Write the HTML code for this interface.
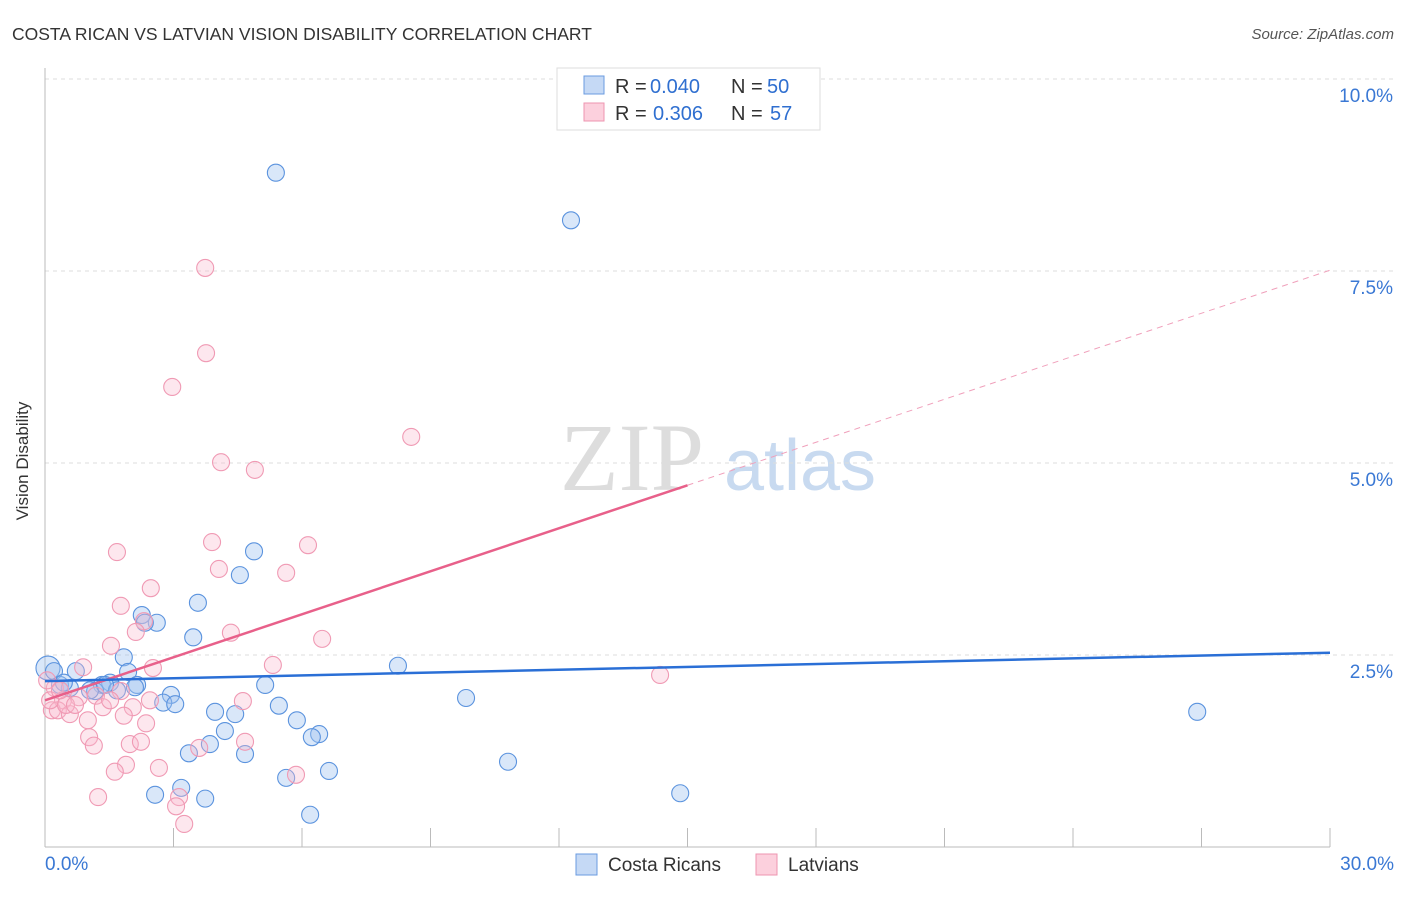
<!DOCTYPE html>
<html><head><meta charset="utf-8"><style>
body{margin:0;background:#fff;font-family:"Liberation Sans",sans-serif}
svg text{font-family:"Liberation Sans",sans-serif}
</style></head><body>
<svg id="chart" width="1406" height="892" xmlns="http://www.w3.org/2000/svg">
<text x="12" y="40" font-size="17.5" fill="#333">COSTA RICAN VS LATVIAN VISION DISABILITY CORRELATION CHART</text>
<text x="1394" y="39" font-size="15" fill="#555" font-style="italic" text-anchor="end">Source: ZipAtlas.com</text>
<g>
<text x="632" y="490" font-size="96" fill="#ddd" text-anchor="middle" style="font-family:'Liberation Serif',serif">ZIP</text>
<text x="800" y="490" font-size="72" fill="#c8daf0" text-anchor="middle">atlas</text>
</g>
<g id="grid"></g>
<g id="axes"></g>
<g id="marks"></g>
<text x="22" y="455" font-size="17" fill="#333" transform="rotate(-90 28 455)" text-anchor="middle">Vision Disability</text>
<g>
<rect x="557" y="68" width="263" height="62" fill="#fff" stroke="#ddd"/>
<rect x="584" y="76" width="20" height="18" fill="#c5d9f5" stroke="#6a9be0"/>
<rect x="584" y="103" width="20" height="18" fill="#fcd0dd" stroke="#ee95b0"/>
<text x="615" y="93" font-size="20" fill="#333">R =</text>
<text x="650" y="93" font-size="20" fill="#2f6fd0">0.040</text>
<text x="731" y="93" font-size="20" fill="#333">N =</text>
<text x="767" y="93" font-size="20" fill="#2f6fd0">50</text>
<text x="615" y="120" font-size="20" fill="#333">R =</text>
<text x="653" y="120" font-size="20" fill="#2f6fd0">0.306</text>
<text x="731" y="120" font-size="20" fill="#333">N =</text>
<text x="770" y="120" font-size="20" fill="#2f6fd0">57</text>
</g>
<g>
<rect x="576" y="854" width="21" height="21" fill="#c5d9f5" stroke="#6a9be0"/>
<text x="608" y="871" font-size="19" fill="#333">Costa Ricans</text>
<rect x="756" y="854" width="21" height="21" fill="#fcd0dd" stroke="#ee95b0"/>
<text x="788" y="871" font-size="19" fill="#333">Latvians</text>
</g>
</svg>
<script>
const blueX=[0.07,5.39,12.28,4.88,4.55,3.57,2.26,2.61,2.33,3.46,1.84,8.24,0.21,1.94,0.72,0.35,2.15,5.14,1.52,1.33,1.68,1.17,2.94,9.83,2.76,3.04,5.46,3.97,4.44,5.88,6.40,6.23,4.20,3.85,3.36,4.67,10.81,6.63,5.63,3.18,2.57,3.74,14.83,6.19,26.90,1.05,0.58,0.44,2.10,1.40];
const blueY=[2.33,8.78,8.16,3.85,3.54,3.18,3.02,2.92,2.92,2.73,2.47,2.36,2.29,2.28,2.29,2.11,2.11,2.11,2.14,2.11,2.04,2.03,1.98,1.94,1.88,1.86,1.84,1.76,1.73,1.65,1.47,1.43,1.51,1.34,1.22,1.21,1.11,0.99,0.90,0.77,0.68,0.63,0.70,0.42,1.76,2.04,2.07,2.14,2.08,2.11];
const blueWeight=[2,1,1,1,1,1,1,1,1,1,1,1,1,1,1,1,1,1,1,1,1,1,1,1,1,1,1,1,1,1,1,1,1,1,1,1,1,1,1,1,1,1,1,1,1,1,1,1,1,1];
const pinkX=[3.74,3.76,2.97,8.55,4.11,4.90,1.68,3.90,6.14,4.06,5.63,2.47,1.77,2.31,2.12,4.34,1.54,6.47,2.52,5.32,0.89,14.36,4.62,0.23,0.42,0.79,1.19,1.77,1.35,2.05,1.84,0.16,0.30,0.58,1.00,2.36,1.03,1.98,2.24,4.67,1.14,3.60,1.89,2.66,1.63,5.86,1.24,3.13,3.06,3.25,0.12,0.49,0.05,1.52,2.45,0.35,0.70];
const pinkY=[7.54,6.43,5.99,5.34,5.01,4.91,3.84,3.97,3.93,3.62,3.57,3.37,3.14,2.94,2.80,2.79,2.62,2.71,2.33,2.37,2.34,2.24,1.90,2.07,1.91,1.95,1.97,2.03,1.82,1.82,1.71,1.78,1.78,1.73,1.65,1.61,1.43,1.34,1.37,1.37,1.32,1.29,1.07,1.03,0.98,0.94,0.65,0.65,0.53,0.30,1.91,1.85,2.17,1.91,1.91,2.04,1.85];
const blueTrend=[2.16,2.53];
const pinkTrend=[1.91,7.51];
const pinkSolidEnd=15;
const yTicks=[2.5,5.0,7.5,10.0];
const xTickCount=10;
const xMax=30;

const X0=45,X1=1330,Y0=847,YPER=76.8;
const sx=v=>X0+(X1-X0)*v/xMax;
const sy=v=>Y0-v*YPER;
const NS='http://www.w3.org/2000/svg';
function mk(parent,tag,attrs){const e=document.createElementNS(NS,tag);for(const k in attrs)e.setAttribute(k,attrs[k]);parent.appendChild(e);return e;}
const grid=document.getElementById('grid'),axes=document.getElementById('axes'),marks=document.getElementById('marks');
yTicks.forEach(t=>{
  const l=mk(grid,'line',{x1:X0,x2:1394,y1:sy(t),y2:sy(t),stroke:'#ddd','stroke-dasharray':'4,4'});
  
  
  const tx=mk(axes,'text',{x:1393,y:sy(t)+23,'font-size':19,fill:'#3a78d4','text-anchor':'end'});
  tx.textContent=t.toFixed(1)+'%';
  
  
});
const ya=mk(axes,'line',{x1:X0,x2:X0,y1:68,y2:Y0,stroke:'#bbb'});


const xa=mk(axes,'line',{x1:X0,x2:X1,y1:Y0,y2:Y0,stroke:'#bbb'});


for(let i=1;i<=xTickCount;i++){
  const v=xMax*i/xTickCount;
  const t=mk(axes,'line',{x1:sx(v),x2:sx(v),y1:Y0-19,y2:Y0,stroke:'#bbb'});
  
  
}
const xl0=mk(axes,'text',{x:45,y:870,'font-size':19,fill:'#3a78d4'});xl0.textContent='0.0%';


const xl1=mk(axes,'text',{x:1394,y:870,'font-size':19,fill:'#3a78d4','text-anchor':'end'});xl1.textContent='30.0%';



blueX.forEach((x,i)=>{
  const c=mk(marks,'circle',{cx:sx(x),cy:sy(blueY[i]),r:8.5*Math.sqrt(blueWeight[i]),fill:'rgba(160,195,240,0.4)',stroke:'#5b93de','stroke-width':1.1});
  
  
});
pinkX.forEach((x,i)=>{
  const c=mk(marks,'circle',{cx:sx(x),cy:sy(pinkY[i]),r:8.5,fill:'rgba(250,185,205,0.35)',stroke:'#f09ab4','stroke-width':1.1});
  
  
});
const pAt=v=>pinkTrend[0]+(pinkTrend[1]-pinkTrend[0])*v/xMax;
const pd=mk(marks,'line',{x1:sx(pinkSolidEnd),y1:sy(pAt(pinkSolidEnd)),x2:sx(xMax),y2:sy(pinkTrend[1]),stroke:'#f0a0bb','stroke-width':1,'stroke-dasharray':'6,5'});


const ps=mk(marks,'line',{x1:sx(0),y1:sy(pinkTrend[0]),x2:sx(pinkSolidEnd),y2:sy(pAt(pinkSolidEnd)),stroke:'#e8608a','stroke-width':2.5});


const bl=mk(marks,'line',{x1:sx(0),y1:sy(blueTrend[0]),x2:sx(xMax),y2:sy(blueTrend[1]),stroke:'#2a6fd6','stroke-width':2.5});


</script>
</body></html>
